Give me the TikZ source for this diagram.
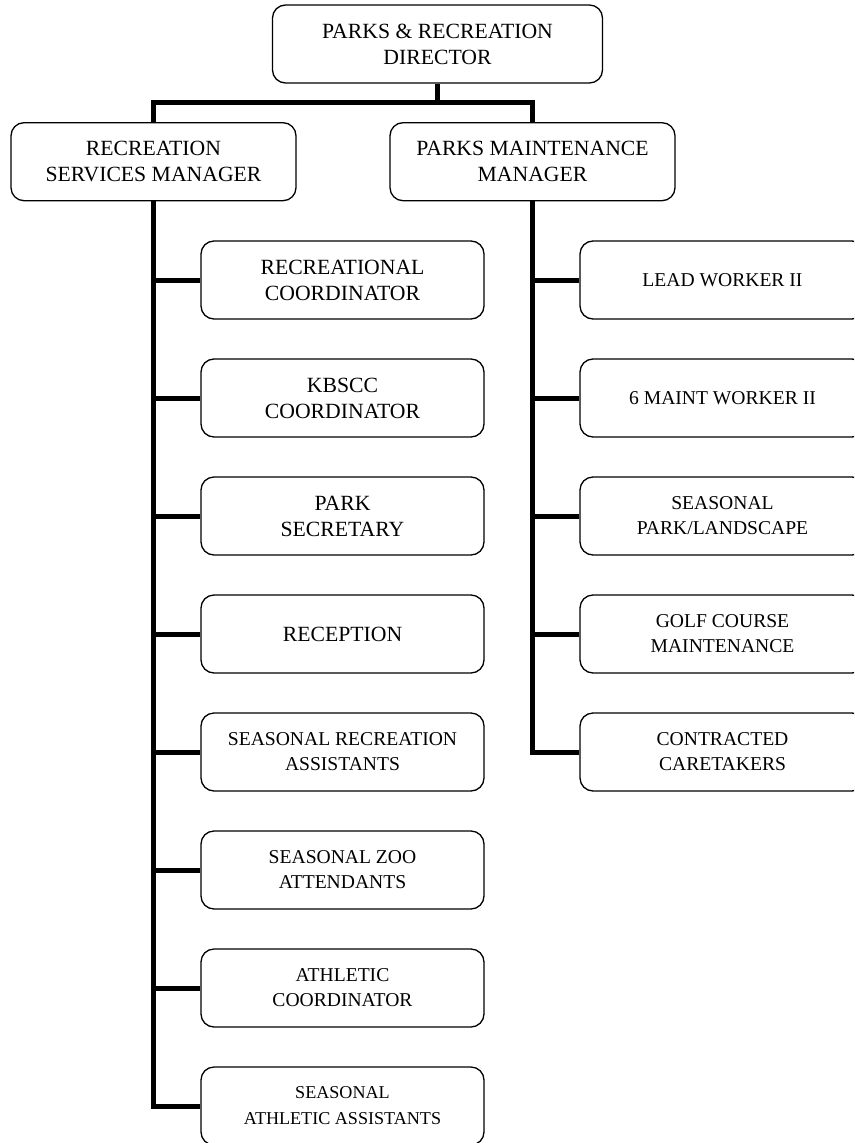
\documentclass[tikz,border=0pt]{standalone}
\usepackage{fontspec}
\setmainfont{Liberation Serif}
\newcommand\fbig{\fontsize{21.7}{26}\selectfont}
\newcommand\fsmall{\fontsize{19.6}{25}\selectfont}
\newcommand\ftiny{\fontsize{18.1}{26}\selectfont}
\tikzset{
  box/.style={draw, line width=1.3pt, rounded corners=13pt, minimum width=283pt,
    minimum height=78pt, inner sep=0pt, align=center, font=\fbig},
  smallbox/.style={box, font=\fsmall},
  tinybox/.style={box, font=\ftiny},
  conn/.style={line width=5pt}
}
\begin{document}
\begin{tikzpicture}[x=1pt,y=-1pt]
\clip (0,0) rectangle (854,1143);
\fill[white] (0,0) rectangle (854,1143);
% top
\node[box, minimum width=330pt] (dir) at (437.5,44) {PARKS \& RECREATION\\DIRECTOR};
\node[box, minimum width=285pt] (lm) at (153.5,161.7) {RECREATION\\SERVICES MANAGER};
\node[box, minimum width=285pt] (rm) at (532.5,161.7) {PARKS MAINTENANCE\\MANAGER};
\coordinate (bus) at (437.5,102);
% left children
\node[box] (l1) at (342.5,280) {RECREATIONAL\\COORDINATOR};
\node[box] (l2) at (342.5,398) {KBSCC\\COORDINATOR};
\node[box] (l3) at (342.5,516) {PARK\\SECRETARY};
\node[box] (l4) at (342.5,634) {RECEPTION};
\node[smallbox] (l5) at (342.5,752) {SEASONAL RECREATION\\ASSISTANTS};
\node[smallbox] (l6) at (342.5,870) {SEASONAL ZOO\\ATTENDANTS};
\node[smallbox] (l7) at (342.5,988) {ATHLETIC\\COORDINATOR};
\node[tinybox] (l8) at (342.5,1106) {SEASONAL\\ATHLETIC ASSISTANTS};
% right children
\node[smallbox, minimum width=285pt] (r1) at (722.5,280) {LEAD WORKER II};
\node[smallbox, minimum width=285pt] (r2) at (722.5,398) {6 MAINT WORKER II};
\node[smallbox, minimum width=285pt] (r3) at (722.5,516) {SEASONAL\\PARK/LANDSCAPE};
\node[smallbox, minimum width=285pt] (r4) at (722.5,634) {GOLF COURSE\\MAINTENANCE};
\node[smallbox, minimum width=285pt] (r5) at (722.5,752) {CONTRACTED\\CARETAKERS};
% connectors
\draw[conn] (dir.south) -- (bus);
\draw[conn] (lm.north) -- (lm.north |- bus) -- (rm.north |- bus) -- (rm.north);
\draw[conn] (lm.south) |- (l8.west);
\foreach \n in {l1,l2,l3,l4,l5,l6,l7}{
  \draw[conn] (lm.south |- \n.west) -- (\n.west);
}
\draw[conn] (rm.south) |- (r5.west);
\foreach \n in {r1,r2,r3,r4}{
  \draw[conn] (rm.south |- \n.west) -- (\n.west);
}
\end{tikzpicture}
\end{document}
